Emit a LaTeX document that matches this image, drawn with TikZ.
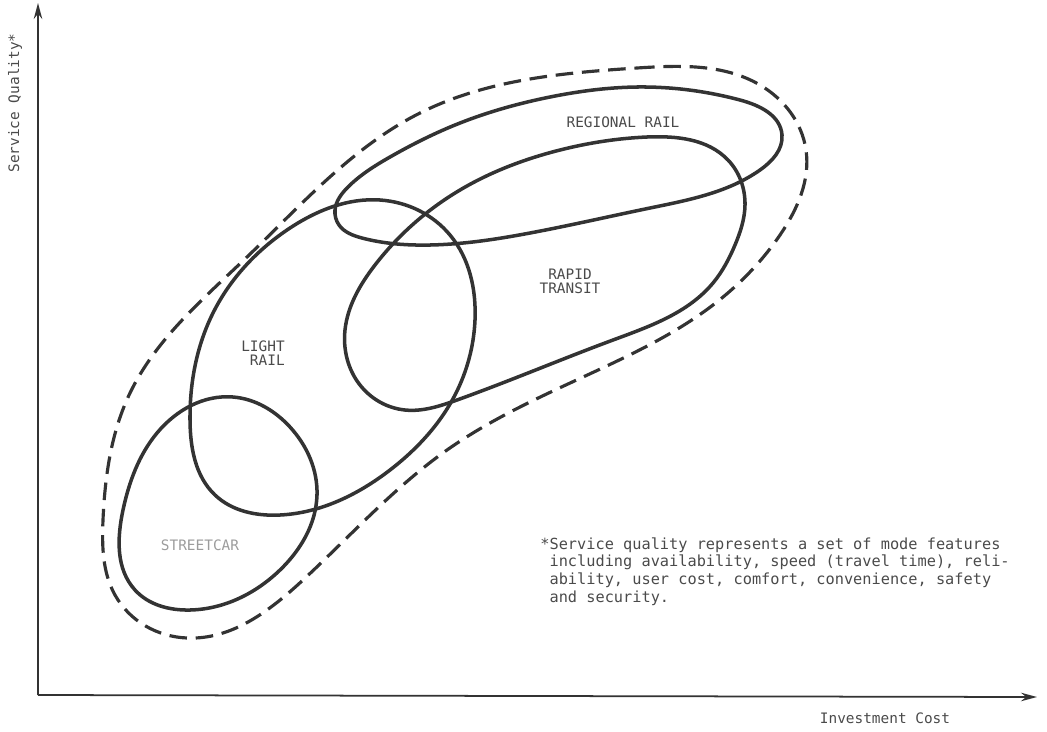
\documentclass[tikz,border=0pt]{standalone}
\usepackage{fontspec}
\setmonofont{DejaVu Sans Mono}
\usepackage{xcolor}
\usepackage{tikz}
\usetikzlibrary{arrows.meta,positioning,hobby}

\definecolor{inkgray}{HTML}{333333}
\definecolor{typegray}{HTML}{4A4A4A}

\begin{document}
\begin{tikzpicture}[
    x=0.02cm, y=-0.02cm,
    use Hobby shortcut,
    zone/.style={draw=inkgray, line width=2pt, line join=round, closed=true},
    hull/.style={draw=inkgray, line width=1.8pt, dash pattern=on 10pt off 5pt, closed=true},
    axis/.style={-{Stealth[length=3.2mm,width=1.7mm]}, draw=inkgray, line width=1pt},
    lbl/.style={font=\ttfamily\fontsize{8.2}{9.2}\selectfont, text=typegray, inner sep=0pt},
    note/.style={font=\ttfamily\fontsize{8.7}{10.2}\selectfont, text=typegray, align=left, inner sep=0pt}
]
    \useasboundingbox (0,0) rectangle (1047,731);

    \coordinate (o) at (38,695);
    \coordinate (ytop) at (38,3);
    \coordinate (xend) at (1037,697);
    \draw [axis] (o) -- (ytop);
    \draw [axis] (o) -- (xend);

    \node [lbl, rotate=90] (ylab) at (15,103) {Service Quality*};
    \node [lbl] (xlab) at (885,718) {Investment Cost};

    \draw [hull] (637,68) .. (760,85) .. (806,150) .. (780,235) .. (713,305) .. (613,363) .. (520,407)
        .. (447,450) .. (303,580) .. (187,638) .. (115,595) .. (103,520) .. (130,393) .. (247,257) .. (420,113);

    \draw [zone] (335,210) .. (348,187) .. (390,157) .. (460,123) .. (550,97) .. (637,87) .. (740,100)
        .. (782,135) .. (760,170) .. (650,208) .. (530,233) .. (430,245) .. (362,238) .. (339,225);

    \draw [zone] (647,137) .. (728,160) .. (745,205) .. (735,245) .. (713,283) .. (613,340) .. (457,400)
        .. (405,410) .. (360,385) .. (345,330) .. (375,265) .. (460,190) .. (560,150);

    \draw [zone] (380,200) .. (450,235) .. (475,320) .. (455,395) .. (390,470) .. (280,515) .. (215,495)
        .. (190,420) .. (213,313) .. (290,228);

    \draw [zone] (233,397) .. (290,427) .. (317,495) .. (280,570) .. (190,610) .. (135,590) .. (123,510)
        .. (157,433);

    \node [lbl] (regional) at (623,122) {REGIONAL RAIL};
    \node [lbl] (rapid) at (570,283) {\begin{tabular}{@{}c@{}}RAPID\\[-1pt]TRANSIT\end{tabular}};
    \node [lbl] (light) at (263,355) {\begin{tabular}{@{}r@{}}LIGHT\\[-1pt]RAIL\end{tabular}};
    \node [lbl, text=typegray!55] (street) at (200,545) {STREETCAR};

    \node [note, anchor=north west] (footnote) at (540,537) {*Service quality represents a set of mode features\\
        \hphantom{*}including availability, speed (travel time), reli-\\
        \hphantom{*}ability, user cost, comfort, convenience, safety\\
        \hphantom{*}and security.};
\end{tikzpicture}
\end{document}
